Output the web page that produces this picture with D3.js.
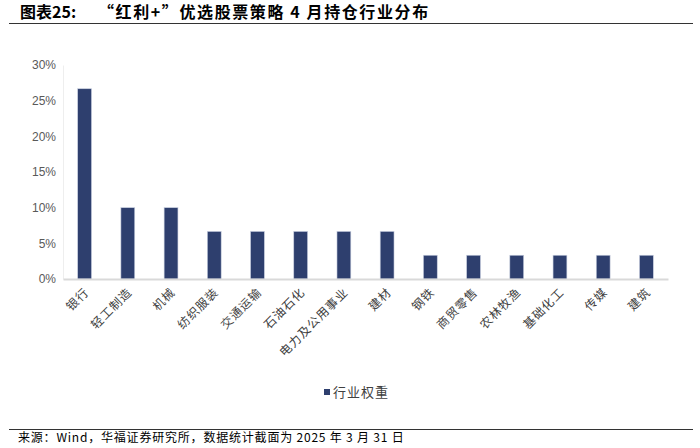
<!DOCTYPE html>
<html><head><meta charset="utf-8">
<script src="https://cdn.jsdelivr.net/npm/d3@7"></script>
<style>body{margin:0;background:#fff}</style>
</head><body><svg id="c" width="700" height="448"></svg>
<script>
const categories = ["银行","轻工制造","机械","纺织服装","交通运输","石油石化","电力及公用事业","建材","钢铁","商贸零售","农林牧渔","基础化工","传媒","建筑"];
const weights = [26.67,10,10,6.67,6.67,6.67,6.67,6.67,3.33,3.33,3.33,3.33,3.33,3.33];
const yTicks = [0,5,10,15,20,25,30];
const seriesName = "行业权重";
const titleLabel = "图表25:";
const titleText = "“红利+”优选股票策略 4 月持仓行业分布";
const source = "来源：Wind，华福证券研究所，数据统计截面为 2025 年 3 月 31 日";

const svg = d3.select("#c");
const cjk = "'Noto Sans CJK SC', sans-serif";
const m = {l:63, r:668, t:65, b:279};
const x = d3.scaleBand().domain(categories).range([m.l, m.r]).paddingInner(0.68).paddingOuter(0.34);
const y = d3.scaleLinear().domain([0,30]).range([m.b, m.t]);

// title
const t = svg.append("text").attr("y",18).attr("font-family",cjk).attr("font-weight","bold")
  .attr("font-size",16).attr("fill","#000");
t.append("tspan").attr("x",20).text(titleLabel);
t.append("tspan").attr("x",98).attr("letter-spacing",1.6).text(titleText);
svg.append("line").attr("x1",9).attr("x2",693).attr("y1",23.5).attr("y2",23.5).attr("stroke","#333").attr("stroke-width",1.2);

// y axis
const ya = svg.append("g").attr("transform",`translate(${m.l},0)`)
  .call(d3.axisLeft(y).tickValues(yTicks).tickSize(0).tickPadding(7).tickFormat(d=>d+"%"));
ya.select(".domain").attr("stroke","#eeeeee");
ya.selectAll("text").attr("font-family","Arial, 'Liberation Sans', sans-serif").attr("font-size",12).attr("fill","#595959");

// bars
svg.append("g").selectAll("rect").data(weights).join("rect")
  .attr("x",(d,i)=>x(categories[i])).attr("width",x.bandwidth())
  .attr("y",d=>y(d)).attr("height",d=>y(0)-y(d))
  .attr("fill","#2E3F6E").attr("stroke","#c9cfdf").attr("stroke-width",0.6);

// x axis
const xa = svg.append("g").attr("transform",`translate(0,${m.b})`)
  .call(d3.axisBottom(x).tickSize(0).tickPadding(0));
xa.select(".domain").attr("stroke","#d9d9d9").attr("stroke-width",2);
xa.selectAll("text").attr("font-family",cjk).attr("font-size",12).attr("fill","#404040")
  .attr("text-anchor","end").attr("dy",0).attr("letter-spacing",1)
  .attr("transform","translate(5,14) rotate(-45)");

// legend
svg.append("rect").attr("x",324).attr("y",389).attr("width",6).attr("height",6).attr("fill","#2E3F6E");
svg.append("text").attr("x",333).attr("y",397).attr("font-family",cjk).attr("font-size",13).attr("letter-spacing",1)
  .attr("fill","#404040").text(seriesName);

// bottom
svg.append("line").attr("x1",9).attr("x2",693).attr("y1",429.5).attr("y2",429.5).attr("stroke","#333").attr("stroke-width",1.2);
svg.append("text").attr("x",18).attr("y",442).attr("font-family",cjk).attr("font-size",12).attr("letter-spacing",0.8)
  .attr("fill","#000").text(source);
</script></body></html>
